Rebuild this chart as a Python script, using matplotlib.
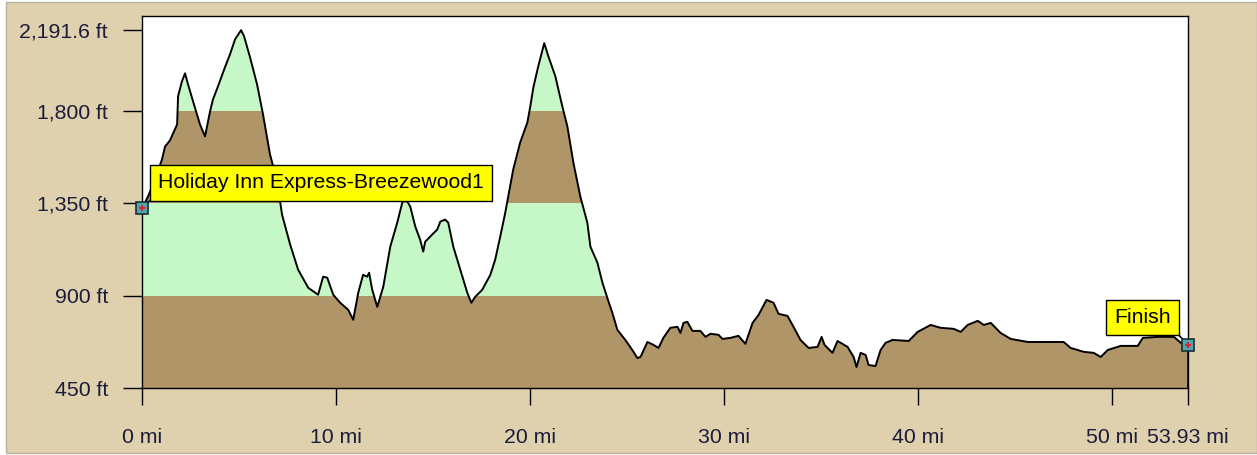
import matplotlib
matplotlib.use("Agg")
import matplotlib.pyplot as plt
from matplotlib.patches import Rectangle, Polygon
import numpy as np

# elevation profile: distance (mi), elevation (ft)
dist_mi = [0.00, 0.05, 0.31, 0.67, 1.03, 1.19, 1.44, 1.65, 1.81, 1.86, 2.06, 2.22, 2.37, 2.63, 2.99,
           3.25, 3.51, 3.66, 3.92, 4.28, 4.54, 4.80, 5.11, 5.26, 5.57, 5.93, 6.24, 6.60, 6.97, 7.22,
           7.64, 8.05, 8.57, 9.08, 9.34, 9.55, 9.86, 10.22, 10.63, 10.89, 11.15, 11.40, 11.61, 11.71,
           11.87, 12.13, 12.44, 12.80, 13.16, 13.42, 13.57, 13.83, 14.09, 14.34, 14.50, 14.60, 14.96,
           15.22, 15.38, 15.63, 15.79, 16.05, 16.41, 16.77, 16.98, 17.18, 17.54, 17.96, 18.21, 18.47,
           18.73, 19.14, 19.50, 19.87, 20.02, 20.18, 20.43, 20.74, 20.95, 21.31, 21.67, 21.93, 22.24,
           22.60, 22.96, 23.12, 23.48, 23.74, 23.99, 24.25, 24.51, 24.92, 25.28, 25.54, 25.70, 26.06,
           26.37, 26.63, 26.88, 27.24, 27.61, 27.76, 27.92, 28.12, 28.38, 28.79, 29.05, 29.31, 29.72,
           29.93, 30.34, 30.75, 31.11, 31.48, 31.79, 32.20, 32.56, 32.82, 33.28, 33.59, 33.95, 34.37,
           34.83, 35.04, 35.19, 35.60, 35.86, 36.38, 36.69, 36.84, 37.05, 37.31, 37.46, 37.82, 38.08,
           38.34, 38.70, 39.53, 39.99, 40.66, 41.18, 41.85, 42.21, 42.57, 43.09, 43.40, 43.76, 44.27,
           44.79, 45.67, 46.70, 47.52, 47.88, 48.56, 49.07, 49.43, 49.79, 50.46, 51.34, 51.60, 52.37,
           53.20, 53.56, 53.87, 53.93]
elev_ft = [1324, 1333, 1382, 1465, 1563, 1626, 1655, 1699, 1733, 1870, 1943, 1982, 1929, 1846, 1733,
           1675, 1797, 1855, 1919, 2012, 2075, 2148, 2192, 2163, 2060, 1929, 1782, 1587, 1455, 1294,
           1148, 1026, 938, 904, 992, 987, 904, 865, 831, 782, 914, 1001, 992, 1011,
           928, 845, 943, 1138, 1255, 1353, 1377, 1333, 1236, 1172, 1114, 1162, 1197,
           1221, 1260, 1270, 1255, 1138, 1026, 914, 865, 894, 928, 1001, 1075, 1187,
           1304, 1514, 1646, 1743, 1821, 1914, 2016, 2129, 2065, 1968, 1821, 1724, 1548,
           1382, 1255, 1138, 1060, 962, 889, 816, 733, 684, 635, 596, 601, 674,
           660, 645, 694, 743, 748, 718, 767, 772, 728, 728, 699, 714, 709,
           689, 694, 704, 665, 767, 806, 879, 865, 811, 801, 748, 684, 645,
           650, 699, 660, 621, 679, 650, 601, 552, 621, 611, 562, 557, 635,
           670, 684, 679, 723, 757, 743, 738, 723, 757, 777, 757, 767, 718,
           689, 674, 674, 674, 645, 626, 621, 601, 635, 655, 655, 694, 699,
           699, 670, 660, 660]

y_ticks = [450, 900, 1350, 1800, 2191.6]
y_labels = ["450 ft", "900 ft", "1,350 ft", "1,800 ft", "2,191.6 ft"]
x_ticks = [0, 10, 20, 30, 40, 50, 53.93]
x_labels = ["0 mi", "10 mi", "20 mi", "30 mi", "40 mi", "50 mi", "53.93 mi"]
bands = [(450, 900), (900, 1350), (1350, 1800), (1800, 2250)]
band_colors = ["#B09568", "#C6F7C6", "#B09568", "#C6F7C6"]

tan = "#DFD0AE"
ink = "#1c1c3a"
fs = 15.3

fig = plt.figure(figsize=(12.57, 4.55), dpi=100)
fig.patch.set_facecolor("white")
fig.patches.append(Rectangle((6 / 1257, 2 / 455), 1 - 6 / 1257, 451 / 455, transform=fig.transFigure,
                             facecolor=tan, edgecolor="#b8b0a0", lw=1, zorder=-1))

ax = fig.add_axes([142 / 1257, 1 - 388 / 455, (1188 - 142) / 1257, (388 - 16) / 455])
ax.set_facecolor("white")

x = np.array(dist_mi)
y = np.array(elev_ft)

# area under the profile, used to clip the coloured bands
verts = [(x[0], 450)] + list(zip(x, y)) + [(x[-1], 450)]
area = Polygon(verts, closed=True, facecolor="none", edgecolor="none", transform=ax.transData)
ax.add_patch(area)
for (lo, hi), c in zip(bands, band_colors):
    span = ax.axhspan(lo, hi, facecolor=c, edgecolor="none", zorder=1)
    span.set_clip_path(area)

ax.plot(x, y, color="black", lw=1.4, zorder=3)
ax.plot([x[-1], x[-1]], [450, y[-1]], color="black", lw=1.8, zorder=3)

ax.set_xlim(0, 53.93)
ax.set_ylim(450, 2261)
ax.set_yticks(y_ticks)
ax.set_yticklabels(y_labels)
ax.set_xticks(x_ticks)
ax.set_xticklabels(x_labels)
ax.tick_params(axis="y", length=13.5, width=1, direction="out", pad=11, labelsize=fs, labelcolor=ink)
ax.tick_params(axis="x", length=12, width=1, direction="out", pad=17, labelsize=fs, labelcolor=ink)
for s in ax.spines.values():
    s.set_color("black")
    s.set_linewidth(1)
for lab in ax.get_yticklabels() + ax.get_xticklabels():
    lab.set_family("Liberation Sans")

# waypoint markers and labels
for xi, yi, txt, off, ha, rel in [(x[0], y[0], "Holiday Inn Express-Breezewood1", (16, 16), "left", (0, 0)),
                                  (x[-1], y[-1], "Finish", (-17, 18), "right", (1, 0))]:
    ax.annotate(txt, xy=(xi, yi), xytext=off, textcoords="offset pixels", ha=ha, va="bottom",
                fontsize=fs, family="Liberation Sans", color="black", zorder=6,
                bbox=dict(boxstyle="square,pad=0.38", facecolor="#FFFF00", edgecolor="black", lw=1),
                arrowprops=dict(arrowstyle="-", color="black", lw=1.2, shrinkA=0, shrinkB=3, relpos=rel),
                annotation_clip=False)
    ax.plot(xi, yi, marker="s", ms=8, mfc="#4fa6ae", mec="#1b3035", mew=1.2, zorder=7, clip_on=False)
    ax.plot(xi, yi, marker="+", ms=5, mec="#e0202a", mew=1.5, zorder=8, clip_on=False)

fig.savefig("out.png", dpi=100, facecolor=fig.get_facecolor())
